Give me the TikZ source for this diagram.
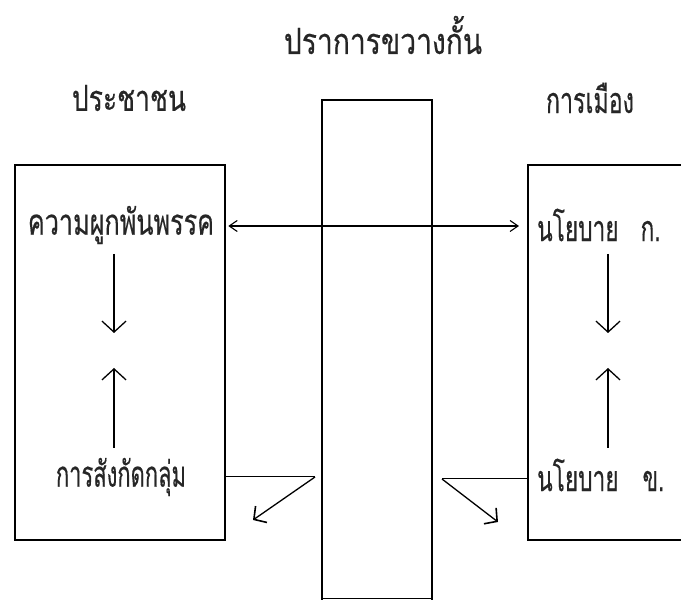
\documentclass[tikz,border=0pt]{standalone}
\usepackage{fontspec}
\newfontfamily\thaifont[Script=Thai,FakeStretch=0.70,FakeBold=0.35]{Loma}
\usetikzlibrary{arrows.meta}
\begin{document}
\begin{tikzpicture}[x=1pt,y=-1pt,
  box/.style={draw=black, line width=1.8pt},
  lbl/.style={font=\thaifont\fontsize{36}{40}\selectfont, inner sep=0pt, text=black!85},
  vflow/.style={line width=1.3pt, -{Straight Barb[length=11pt,width=24pt,line width=1.3pt]}},
  hflow/.style={line width=1.1pt, {Straight Barb[length=8pt,width=11pt,line width=1.1pt]}-{Straight Barb[length=8pt,width=11pt,line width=1.1pt]}},
  reflect/.style={line width=1.3pt, -{Straight Barb[length=9pt,width=20pt,line width=1.6pt]}},
  thin/.style={line width=1pt}]
\useasboundingbox (0,0) rectangle (681,601);
\fill[white] (0,0) rectangle (681,601);

% headings
\node[lbl] (title) at (383,35) {\scalebox{1.12}[1]{ปราการขวางกั้น}};
\node[lbl] (people) at (129,98) {\scalebox{1.05}[1]{ประชาชน}};
\node[lbl] (politics) at (590,98) {\scalebox{0.92}[1]{การเมือง}};

% boxes
\draw[box] (15,165) rectangle (225,540);
\draw[box] (700,165) -- (528,165) -- (528,540) -- (700,540);
\draw[box] (322,600) -- (322,100) -- (432,100) -- (432,600);
\draw[line width=1pt] (322,599) -- (432,599);

% texts
\node[lbl] (bond) at (121,225) {ความผูกพันพรรค};
\node[lbl, anchor=west] (polA) at (537,225) {\scalebox{0.9}[1]{นโยบาย}\hspace{22pt}\scalebox{0.9}[1]{ก.}};
\node[lbl] (group) at (121,477) {\scalebox{0.87}[1]{การสังกัดกลุ่ม}};
\node[lbl, anchor=west] (polB) at (537,475) {\scalebox{0.9}[1]{นโยบาย}\hspace{24pt}\scalebox{0.9}[1]{ข.}};

% horizontal link
\draw[hflow] ([xshift=14pt]bond.east |- 0,226) -- ([xshift=-18pt]polA.west |- 0,226);

% vertical arrows
\coordinate (ld) at (114,333);
\coordinate (lu) at (114,368);
\coordinate (rd) at (608,333);
\coordinate (ru) at (608,368);
\draw[vflow] (114,254) -- (ld);
\draw[vflow] (114,448) -- (lu);
\draw[vflow] (608,254) -- (rd);
\draw[vflow] (608,448) -- (ru);

% reflected lines at the barrier
\coordinate (lhit) at (315,477);
\coordinate (lend) at (253,520);
\coordinate (rhit) at (442,479);
\coordinate (rend) at (498,522);
\draw[thin] (225,477) -- (lhit);
\draw[reflect] (lhit) -- (lend);
\draw[thin] (528,479) -- (rhit);
\draw[reflect] (rhit) -- (rend);
\end{tikzpicture}
\end{document}
